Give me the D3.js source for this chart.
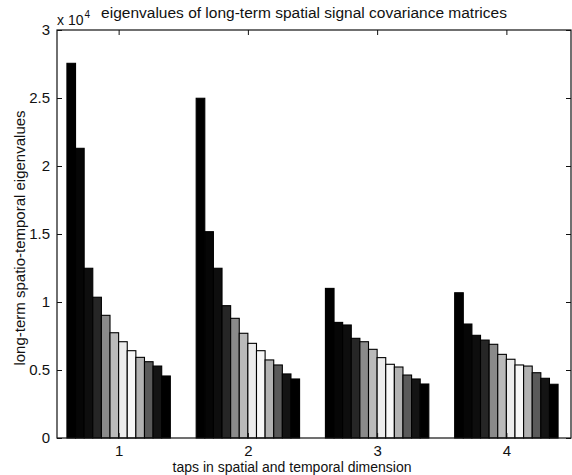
<!DOCTYPE html>
<html>
<head>
<meta charset="utf-8">
<script src="https://cdn.jsdelivr.net/npm/d3@7"></script>
<style>
  body { margin: 0; background: #fff; }
  text { font-family: "Liberation Sans", Arial, sans-serif; fill: #111; }
</style>
</head>
<body>
<div id="chart"></div>
<script>
// values in units of 1e4
const groups = [1, 2, 3, 4];
const yTicks = [0, 0.5, 1, 1.5, 2, 2.5, 3];
const eig1 = [2.755, 2.13, 1.248, 1.035, 0.902, 0.774, 0.708, 0.642, 0.593, 0.561, 0.529, 0.456];
const eig2 = [2.498, 1.517, 1.248, 0.973, 0.880, 0.770, 0.696, 0.642, 0.574, 0.537, 0.471, 0.434];
const eig3 = [1.10, 0.85, 0.831, 0.733, 0.708, 0.652, 0.591, 0.542, 0.522, 0.463, 0.434, 0.397];
const eig4 = [1.068, 0.838, 0.755, 0.72, 0.689, 0.615, 0.579, 0.537, 0.529, 0.48, 0.439, 0.395];
const values = [eig1, eig2, eig3, eig4];
// grayscale print of a jet-like colormap
const shades = ['#000', '#060606', '#0e0e0e', '#262626', '#8a8a8a', '#bababa', '#ececec', '#f7f7f7', '#b2b2b2', '#5a5a5a', '#141414', '#000'];

const width = 572, height = 475;
const plotL = 57, plotR = 571, plotT = 30, plotB = 438;

const svg = d3.select('#chart').append('svg')
  .attr('width', width)
  .attr('height', height);

const x = d3.scaleLinear().domain([0.5, 4.5]).range([plotL - 3, plotR]);
const y = d3.scaleLinear().domain([0, 3]).range([plotB, plotT]);

const nSeries = eig1.length;
const inner = d3.scaleBand()
  .domain(d3.range(nSeries))
  .range([-0.4, 0.4]);

const g = svg.selectAll('.group')
  .data(groups)
  .enter().append('g')
  .attr('class', 'group');

g.selectAll('rect')
  .data((d, i) => values[i].map((v, j) => ({ grp: d, j: j, v: v })))
  .enter().append('rect')
  .attr('x', d => x(d.grp + inner(d.j)))
  .attr('y', d => y(d.v))
  .attr('width', d => x(d.grp + inner(d.j) + inner.bandwidth()) - x(d.grp + inner(d.j)))
  .attr('height', d => y(0) - y(d.v))
  .attr('fill', d => shades[d.j])
  .attr('stroke', '#000')
  .attr('stroke-width', 1.1);

// box
svg.append('rect')
  .attr('x', plotL).attr('y', plotT)
  .attr('width', plotR - plotL).attr('height', plotB - plotT)
  .attr('fill', 'none').attr('stroke', '#111').attr('stroke-width', 1.2);

// axes with inward ticks
const axB = svg.append('g').attr('transform', `translate(0,${plotB})`)
  .call(d3.axisBottom(x).tickValues(groups).tickSize(-5).tickPadding(7).tickFormat(d3.format('d')));
const axT = svg.append('g').attr('transform', `translate(0,${plotT})`)
  .call(d3.axisTop(x).tickValues(groups).tickSize(-5).tickFormat(''));
const axL = svg.append('g').attr('transform', `translate(${plotL},0)`)
  .call(d3.axisLeft(y).tickValues(yTicks).tickSize(-5).tickPadding(7).tickFormat(d => d));
const axR = svg.append('g').attr('transform', `translate(${plotR},0)`)
  .call(d3.axisRight(y).tickValues(yTicks).tickSize(-5).tickFormat(''));

[axB, axT, axL, axR].forEach(a => {
  a.select('.domain').remove();
  a.selectAll('.tick line').attr('stroke', '#111');
  a.selectAll('text').style('font-size', '15px').attr('fill', '#111');
});

// exponent
const expo = svg.append('text')
  .attr('x', plotL).attr('y', plotT - 5)
  .style('font-size', '14px')
  .text('x 10');
expo.append('tspan')
  .attr('dx', 1).attr('dy', -7)
  .style('font-size', '10px')
  .text('4');

// title
svg.append('text')
  .attr('x', 304).attr('y', 18)
  .attr('text-anchor', 'middle')
  .style('font-size', '15.5px')
  .text('eigenvalues of long-term spatial signal covariance matrices');

// x label
svg.append('text')
  .attr('x', 292).attr('y', 472)
  .attr('text-anchor', 'middle')
  .style('font-size', '14px')
  .text('taps in spatial and temporal dimension');

// y label
svg.append('text')
  .attr('transform', `translate(25,238) rotate(-90)`)
  .attr('text-anchor', 'middle')
  .style('font-size', '15px')
  .text('long-term spatio-temporal eigenvalues');
</script>
</body>
</html>
